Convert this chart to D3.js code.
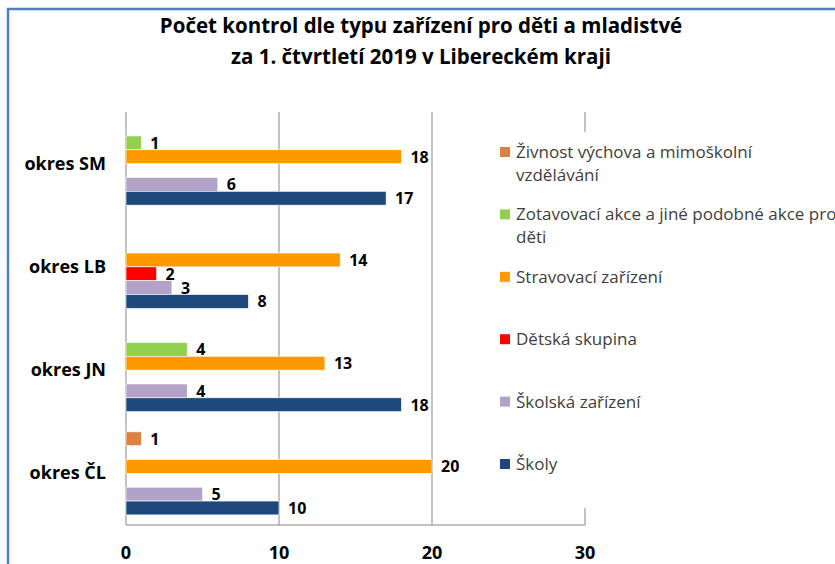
<!DOCTYPE html>
<html lang="cs">
<head>
  <meta charset="UTF-8">
  <title>Počet kontrol dle typu zařízení</title>
  <script src="https://d3js.org/d3.v7.min.js"></script>
  <style>
    body {
      margin: 0;
      overflow: hidden;
      background: #fff;
      font-family: 'Open Sans', 'Noto Sans', sans-serif;
    }
    svg { display: block; }
    .title { font-size: 20.5px; font-weight: bold; fill: #000; text-anchor: middle; }
    .cat { font-size: 18px; font-weight: bold; fill: #000; text-anchor: end; }
    .tick-label { font-size: 18px; font-weight: bold; fill: #000; text-anchor: middle; }
    .value { font-size: 16px; font-weight: bold; fill: #000; }
    .legend-text { font-size: 17px; fill: #404040; }
    .grid { stroke: #868686; stroke-width: 1; }
  </style>
</head>
<body>
<svg width="835" height="564"></svg>
<script>
  // okresy shora dolů
  const categories = ["okres SM", "okres LB", "okres JN", "okres ČL"];
  // řady v pořadí legendy (shora dolů v každé skupině)
  const series = [
    "Živnost výchova a mimoškolní vzdělávání",
    "Zotavovací akce a jiné podobné akce pro děti",
    "Stravovací zařízení",
    "Dětská skupina",
    "Školská zařízení",
    "Školy"
  ];
  const legendLines = [
    ["Živnost výchova a mimoškolní", "vzdělávání"],
    ["Zotavovací akce a jiné podobné akce pro", "děti"],
    ["Stravovací zařízení"],
    ["Dětská skupina"],
    ["Školská zařízení"],
    ["Školy"]
  ];
  const colors = ["#DA8243", "#92D050", "#FF9900", "#FF0000", "#B3A2C7", "#1F497D"];
  // hodnoty: [řada][okres]
  const zivnost     = [0, 0, 0, 1];
  const zotavovaci  = [1, 0, 4, 0];
  const stravovaci  = [18, 14, 13, 20];
  const detska      = [0, 2, 0, 0];
  const skolskaZar  = [6, 3, 4, 5];
  const skoly       = [17, 8, 18, 10];
  const values = [zivnost, zotavovaci, stravovaci, detska, skolskaZar, skoly];
  const xTicks = [0, 10, 20, 30];

  const svg = d3.select("svg");

  // rámeček grafu
  svg.append("path")
    .attr("d", "M8,564 L8,9 L835,9")
    .attr("fill", "none")
    .attr("stroke", "#4F81BD")
    .attr("stroke-width", 2.5);

  // titulek
  svg.append("text").attr("class", "title").attr("x", 421).attr("y", 33)
    .text("Počet kontrol dle typu zařízení pro děti a mladistvé");
  svg.append("text").attr("class", "title").attr("x", 421).attr("y", 64)
    .text("za 1. čtvrtletí 2019 v Libereckém  kraji");

  const x = d3.scaleLinear().domain([0, 30]).range([126, 585]);
  const y0 = d3.scaleBand().domain(categories).range([112, 525]);
  const y1 = d3.scaleBand().domain(d3.range(series.length))
    .range([0, y0.bandwidth()]).paddingOuter(0.73);

  // mřížka
  svg.append("g").selectAll("line")
    .data(xTicks.slice(1))
    .join("line")
    .attr("class", "grid")
    .attr("x1", d => x(d)).attr("x2", d => x(d))
    .attr("y1", 112).attr("y2", 525);

  // osy
  svg.append("line").attr("class", "grid")
    .attr("x1", x(0)).attr("x2", x(30)).attr("y1", 525).attr("y2", 525);
  svg.append("line").attr("class", "grid")
    .attr("x1", x(0)).attr("x2", x(0)).attr("y1", 112).attr("y2", 525);

  svg.append("g").selectAll("text")
    .data(xTicks)
    .join("text")
    .attr("class", "tick-label")
    .attr("x", d => x(d))
    .attr("y", 559)
    .text(d => d);

  // popisky kategorií
  svg.append("g").selectAll("text")
    .data(categories)
    .join("text")
    .attr("class", "cat")
    .attr("x", 106)
    .attr("y", d => y0(d) + y0.bandwidth() / 2 + 6)
    .text(d => d);

  // sloupce
  const points = [];
  categories.forEach((c, ci) => {
    series.forEach((s, si) => {
      points.push({ cat: c, si: si, v: values[si][ci] });
    });
  });
  const shown = points.filter(d => d.v > 0);

  svg.append("g").selectAll("rect")
    .data(shown)
    .join("rect")
    .attr("x", x(0))
    .attr("y", d => y0(d.cat) + y1(d.si))
    .attr("width", d => x(d.v) - x(0))
    .attr("height", y1.bandwidth())
    .attr("fill", d => colors[d.si])
    .attr("stroke", "#fff")
    .attr("stroke-width", 0.6);

  svg.append("g").selectAll("text")
    .data(shown)
    .join("text")
    .attr("class", "value")
    .attr("x", d => x(d.v) + 9)
    .attr("y", d => y0(d.cat) + y1(d.si) + y1.bandwidth() / 2 + 6)
    .text(d => d.v);

  // legenda (bílé pozadí zakrývá mřížku)
  svg.append("rect")
    .attr("x", 492).attr("y", 132).attr("width", 343).attr("height", 376)
    .attr("fill", "#fff");

  const legend = svg.append("g").selectAll("g")
    .data(legendLines)
    .join("g")
    .attr("transform", (d, i) => `translate(500, ${152 + i * 62.4})`);

  legend.append("rect")
    .attr("x", 0).attr("y", -5)
    .attr("width", 10).attr("height", 10)
    .attr("fill", (d, i) => colors[i]);

  legend.selectAll("text")
    .data(d => d)
    .join("text")
    .attr("class", "legend-text")
    .attr("x", 16)
    .attr("y", (d, j) => 6 + j * 23)
    .text(d => d);
</script>
</body>
</html>
